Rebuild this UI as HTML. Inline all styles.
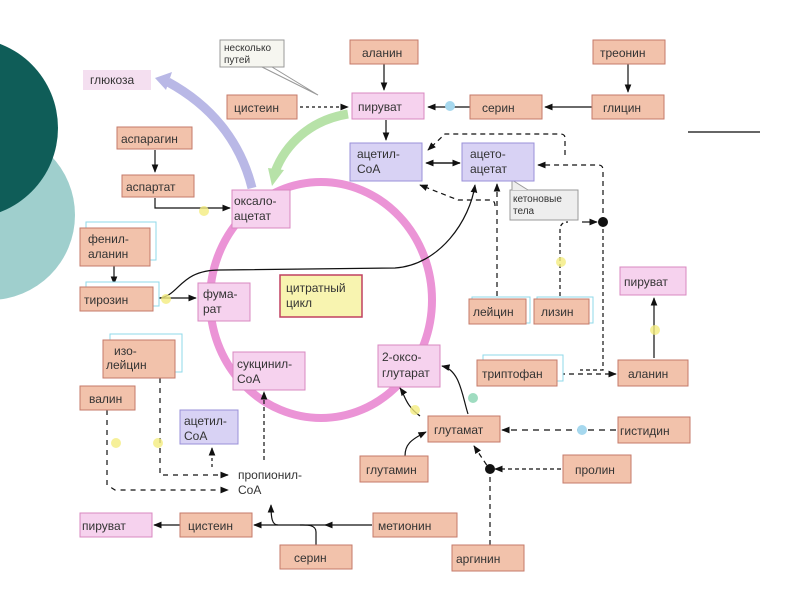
<!DOCTYPE html>
<html><head><meta charset="utf-8"><style>
body{margin:0;background:#fff}
svg text{font-family:"Liberation Sans",sans-serif;font-size:12px;fill:#333}
</style></head><body>
<svg width="800" height="600" viewBox="0 0 800 600" xmlns="http://www.w3.org/2000/svg">
<defs>
<marker id="a" viewBox="0 0 10 10" refX="9" refY="5" markerWidth="7" markerHeight="7" orient="auto"><path d="M0,1L10,5L0,9z" fill="#111"/></marker>
</defs>
<rect width="800" height="600" fill="#fff"/>
<circle cx="-10" cy="215" r="85" fill="#9fcfcd"/>
<circle cx="-32" cy="128" r="90" fill="#0f5d58"/>
<line x1="688" y1="132" x2="760" y2="132" stroke="#333" stroke-width="1.5"/>

<ellipse cx="321" cy="300" rx="111" ry="118" fill="none" stroke="#eb94d6" stroke-width="8"/>
<path d="M252,188 C240,140 210,105 168,82" fill="none" stroke="#b9b8e6" stroke-width="9"/>
<path d="M155,78 L172,72 L166,90z" fill="#b9b8e6"/>
<path d="M348,114 C310,120 285,145 275,172" fill="none" stroke="#b7e2a8" stroke-width="9"/>
<path d="M268,168 L284,170 L272,186z" fill="#b7e2a8"/>

<g stroke="#111" stroke-width="1.2" fill="none">
<line x1="384" y1="64" x2="384" y2="90" marker-end="url(#a)"/>
<line x1="628" y1="64" x2="628" y2="92" marker-end="url(#a)"/>
<line x1="300" y1="107" x2="348" y2="107" stroke-dasharray="3,3" marker-end="url(#a)"/>
<line x1="470" y1="107" x2="428" y2="107" marker-end="url(#a)"/>
<line x1="592" y1="107" x2="545" y2="107" marker-end="url(#a)"/>
<line x1="386" y1="120" x2="386" y2="140" marker-end="url(#a)"/>
<line x1="430" y1="163" x2="460" y2="163" marker-end="url(#a)"/>
<line x1="460" y1="163" x2="426" y2="163" marker-end="url(#a)"/>
<line x1="155" y1="150" x2="155" y2="172" marker-end="url(#a)"/>
<path d="M155,198 V208 H230" marker-end="url(#a)"/>
<line x1="114" y1="266" x2="114" y2="284" marker-end="url(#a)"/>
<line x1="155" y1="298" x2="196" y2="298" marker-end="url(#a)"/>
<path d="M160,298 C180,295 180,270 220,270 L395,268 C440,265 470,220 475,185" marker-end="url(#a)"/>
<path d="M565,155 V138 Q565,134 560,134 H445 L428,150" stroke-dasharray="5,4" marker-end="url(#a)"/>
<line x1="497" y1="296" x2="497" y2="184" stroke-dasharray="5,4" marker-end="url(#a)"/>
<path d="M495,206 Q495,200 490,200 H458 L420,185" stroke-dasharray="5,4" marker-end="url(#a)"/>
<path d="M560,296 V230 Q560,222 568,222" stroke-dasharray="4,3"/>
<line x1="582" y1="222" x2="597" y2="222" marker-end="url(#a)"/>
<path d="M603,222 V170 Q603,165 598,165 H538" stroke-dasharray="5,4" marker-end="url(#a)"/>
<path d="M603,222 V370 L580,370" stroke-dasharray="4,3"/>
<line x1="560" y1="374" x2="616" y2="374" stroke-dasharray="5,4" marker-end="url(#a)"/>
<line x1="654" y1="358" x2="654" y2="298" marker-end="url(#a)"/>
<path d="M420,416 C405,405 405,395 400,388" marker-end="url(#a)"/>
<path d="M468,414 C462,395 460,370 442,366" marker-end="url(#a)"/>
<line x1="616" y1="430" x2="502" y2="430" stroke-dasharray="6,5" marker-end="url(#a)"/>
<path d="M405,456 C405,445 410,440 426,432" marker-end="url(#a)"/>
<line x1="561" y1="469" x2="495" y2="469" stroke-dasharray="4,3" marker-end="url(#a)"/>
<path d="M490,545 V470 L474,446" stroke-dasharray="5,4" marker-end="url(#a)"/>
<path d="M160,378 V475 H228" stroke-dasharray="5,5" marker-end="url(#a)"/>
<path d="M107,410 V485 L115,490 H228" stroke-dasharray="5,5" marker-end="url(#a)"/>
<line x1="212" y1="467" x2="212" y2="448" stroke-dasharray="3,3" marker-end="url(#a)"/>
<line x1="264" y1="460" x2="264" y2="392" stroke-dasharray="4,3" marker-end="url(#a)"/>
<line x1="372" y1="525" x2="254" y2="525" marker-end="url(#a)"/>
<line x1="330" y1="525" x2="325" y2="525" marker-end="url(#a)"/>
<line x1="180" y1="525" x2="154" y2="525" marker-end="url(#a)"/>
<path d="M316,545 V532 C316,524 305,525 300,525"/>
<path d="M278,525 C272,525 271,518 271,505" marker-end="url(#a)"/>
</g>
<circle cx="603" cy="222" r="5" fill="#111"/>
<circle cx="490" cy="469" r="5" fill="#111"/>
<g fill="#f4ec80" opacity=".8">
<circle cx="204" cy="211" r="5"/><circle cx="166" cy="299" r="5"/><circle cx="116" cy="443" r="5"/><circle cx="158" cy="443" r="5"/><circle cx="561" cy="262" r="5"/><circle cx="655" cy="330" r="5"/><circle cx="415" cy="410" r="5"/>
</g>
<g fill="#a6d8ee"><circle cx="450" cy="106" r="5"/><circle cx="582" cy="430" r="5"/><circle cx="473" cy="398" r="5" fill="#9fdcc0"/></g>

<rect x="220" y="40" width="64" height="27" fill="#f6f6f0" stroke="#999"/>
<path d="M262,67 L318,95 L272,67z" fill="#fff" stroke="#999"/>
<text x="224" y="51" style="font-size:10px">несколько</text><text x="224" y="63" style="font-size:10px">путей</text>
<rect x="510" y="190" width="68" height="30" fill="#eee" stroke="#999"/>
<path d="M512,190 L512,180 L528,190" fill="#eee" stroke="#999"/>
<text x="513" y="202" style="font-size:10px">кетоновые</text><text x="513" y="214" style="font-size:10px">тела</text>

<g>
<g fill="#fff" stroke="#8fd8ea">
<rect x="86" y="222" width="70" height="38"/><rect x="86" y="282" width="73" height="24"/>
<rect x="110" y="334" width="72" height="38"/><rect x="483" y="355" width="80" height="26"/>
<rect x="472" y="297" width="58" height="26"/><rect x="537" y="297" width="56" height="26"/>
</g>
<g fill="#f2c2ab" stroke="#c47a6a" stroke-width="1">
<rect x="350" y="40" width="68" height="24"/><rect x="593" y="40" width="72" height="24"/>
<rect x="227" y="95" width="70" height="24"/><rect x="470" y="95" width="72" height="24"/>
<rect x="592" y="95" width="72" height="24"/><rect x="117" y="127" width="75" height="22"/>
<rect x="122" y="175" width="72" height="22"/>
<rect x="80" y="228" width="70" height="38"/>
<rect x="80" y="287" width="73" height="24"/>
<rect x="103" y="340" width="72" height="38"/>
<rect x="477" y="360" width="80" height="26"/>
<rect x="469" y="299" width="57" height="25"/><rect x="534" y="299" width="55" height="25"/>
<rect x="618" y="360" width="70" height="26"/><rect x="80" y="386" width="55" height="24"/>
<rect x="428" y="416" width="72" height="26"/><rect x="618" y="417" width="72" height="26"/>
<rect x="360" y="456" width="68" height="26"/><rect x="563" y="455" width="68" height="28"/>
<rect x="180" y="513" width="72" height="24"/><rect x="373" y="513" width="84" height="24"/>
<rect x="280" y="545" width="72" height="24"/><rect x="452" y="545" width="72" height="26"/>
</g>
<g fill="#f6d2ee" stroke="#d888c0">
<rect x="83" y="70" width="68" height="20" stroke="none" fill="#f4dff0"/>
<rect x="352" y="93" width="72" height="26"/><rect x="232" y="190" width="58" height="38"/>
<rect x="198" y="283" width="52" height="38"/><rect x="620" y="267" width="66" height="28"/>
<rect x="233" y="352" width="72" height="38"/><rect x="378" y="345" width="62" height="42"/>
<rect x="80" y="513" width="72" height="24"/>
</g>
<g fill="#d8d2f4" stroke="#9a90d8">
<rect x="350" y="143" width="72" height="38"/><rect x="462" y="143" width="72" height="38"/>
<rect x="180" y="410" width="58" height="34"/>
</g>
<rect x="280" y="275" width="82" height="42" fill="#f8f4b0" stroke="#c04060" stroke-width="1.5"/>
</g>

<g>
<text x="362" y="57">аланин</text><text x="600" y="57">треонин</text>
<text x="90" y="84">глюкоза</text><text x="234" y="112">цистеин</text>
<text x="358" y="111">пируват</text><text x="482" y="112">серин</text>
<text x="603" y="112">глицин</text><text x="121" y="143">аспарагин</text>
<text x="357" y="158">ацетил-</text><text x="357" y="173">CoA</text>
<text x="470" y="158">ацето-</text><text x="470" y="173">ацетат</text>
<text x="126" y="191">аспартат</text>
<text x="234" y="205">оксало-</text><text x="234" y="220">ацетат</text>
<text x="88" y="243">фенил-</text><text x="88" y="258">аланин</text>
<text x="84" y="304">тирозин</text>
<text x="203" y="298">фума-</text><text x="203" y="313">рат</text>
<text x="286" y="292">цитратный</text><text x="286" y="307">цикл</text>
<text x="473" y="316">лейцин</text><text x="541" y="316">лизин</text>
<text x="624" y="286">пируват</text>
<text x="114" y="355">изо-</text><text x="106" y="369">лейцин</text>
<text x="237" y="368">сукцинил-</text><text x="237" y="383">CoA</text>
<text x="382" y="361">2-оксо-</text><text x="382" y="377">глутарат</text>
<text x="482" y="378">триптофан</text><text x="628" y="378">аланин</text>
<text x="89" y="403">валин</text>
<text x="184" y="425">ацетил-</text><text x="184" y="440">CoA</text>
<text x="434" y="434">глутамат</text><text x="620" y="435">гистидин</text>
<text x="366" y="474">глутамин</text><text x="575" y="474">пролин</text>
<text x="238" y="479">пропионил-</text><text x="238" y="494">CoA</text>
<text x="82" y="530">пируват</text><text x="188" y="530">цистеин</text>
<text x="378" y="530">метионин</text><text x="294" y="562">серин</text>
<text x="456" y="563">аргинин</text>
</g>
</svg>
</body></html>
